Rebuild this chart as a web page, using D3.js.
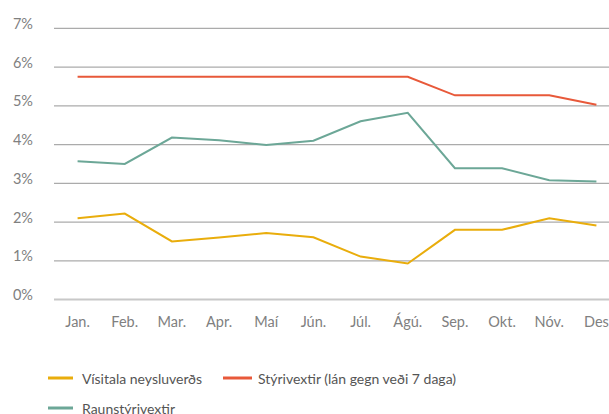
<!DOCTYPE html>
<html><head><meta charset="utf-8">
<script src="https://cdn.jsdelivr.net/npm/d3@7"></script>
<style>
html,body{margin:0;padding:0;background:#fff;overflow:hidden}
text{font-family:Lato,"Open Sans",sans-serif}
</style></head>
<body><svg id="c" width="609" height="414"></svg>
<script>
const months = ["Jan.","Feb.","Mar.","Apr.","Maí","Jún.","Júl.","Ágú.","Sep.","Okt.","Nóv.","Des"];
const yTicks = [0,1,2,3,4,5,6,7];
const visitala = [2.10,2.22,1.50,1.60,1.72,1.61,1.11,0.93,1.80,1.80,2.10,1.91];
const styrivextir = [5.75,5.75,5.75,5.75,5.75,5.75,5.75,5.75,5.27,5.27,5.27,5.03];
const raunstyri = [3.57,3.50,4.18,4.11,3.99,4.10,4.60,4.82,3.39,3.39,3.08,3.05];
const seriesNames = ["Vísitala neysluverðs","Stýrivextir (lán gegn veði 7 daga)","Raunstýrivextir"];
const colors = ["#e9ad0c","#e8593a","#6ca797"];

const svg = d3.select("#c");
const x = d3.scaleBand().domain(months).range([54,620]);
const y = d3.scaleLinear().domain([0,7]).range([299.6,28.3]);

const grid = svg.append("g");
grid.selectAll("line").data(yTicks).join("line")
  .attr("x1",54).attr("x2",609)
  .attr("y1",d=>y(d)).attr("y2",d=>y(d))
  .attr("stroke",d=>d===0?"#c8c8c8":"#ababab").attr("stroke-width",d=>d===0?2:1.2);
grid.selectAll("text").data(yTicks).join("text")
  .attr("x",33).attr("y",d=>y(d)+0.5)
  .attr("text-anchor","end").attr("fill","#808080")
  .attr("font-size",14.5)
  .text(d=>d+"%");

svg.append("g").selectAll("text").data(months).join("text")
  .attr("x",d=>x(d)+x.bandwidth()/2).attr("y",327)
  .attr("text-anchor","middle").attr("fill","#808080")
  .attr("font-size",14.5)
  .text(d=>d);

const line = d3.line().x((d,i)=>x(months[i])+x.bandwidth()/2).y(d=>y(d));
[visitala,styrivextir,raunstyri].forEach((s,i)=>{
  svg.append("path").datum(s).attr("d",line)
    .attr("fill","none").attr("stroke",colors[i]).attr("stroke-width",2);
});

const leg = [{x:48,y:378},{x:223,y:378},{x:48,y:408}];
seriesNames.forEach((n,i)=>{
  const g = svg.append("g");
  g.append("line").attr("x1",leg[i].x).attr("x2",leg[i].x+25+(i===1?4:0))
    .attr("y1",leg[i].y).attr("y2",leg[i].y)
    .attr("stroke",colors[i]).attr("stroke-width",3);
  g.append("text").attr("x",leg[i].x+(i===1?35:34)).attr("y",leg[i].y+5.5)
    .attr("fill","#555").attr("font-size",14).text(n);
});
</script></body></html>
